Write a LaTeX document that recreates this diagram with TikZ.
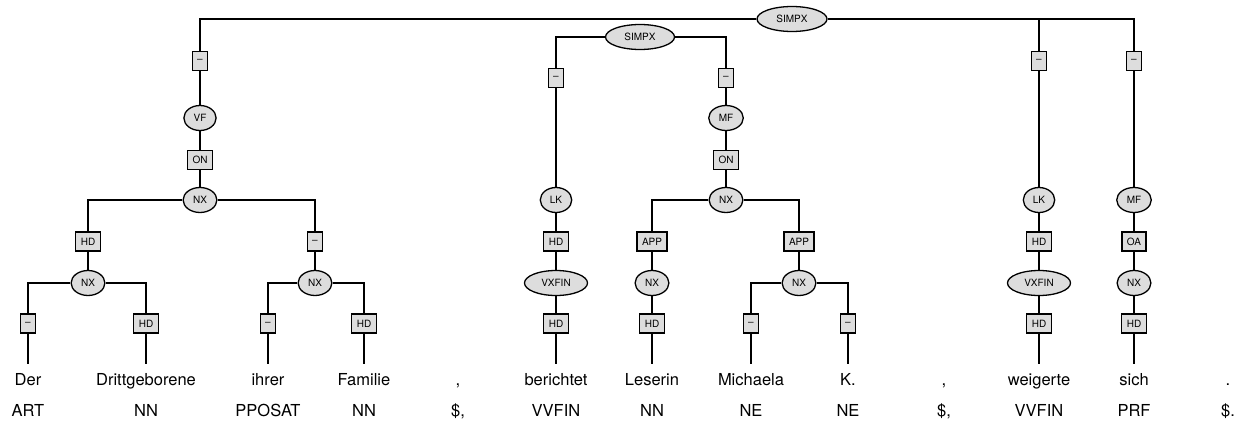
\documentclass[tikz,border=0pt]{standalone}
\usepackage{fontspec}
\setmainfont{TeX Gyre Heros}
\usetikzlibrary{shapes.geometric}
\definecolor{TreeFill}{HTML}{DDDDDD}

\begin{document}
\begin{tikzpicture}[x=1pt,y=-1pt,line width=1.3pt,
    cat/.style={ellipse,draw,fill=TreeFill,font=\fontsize{10}{12}\selectfont,inner xsep=5pt,inner ysep=2pt,minimum height=25pt},
    lab/.style={draw,fill=TreeFill,font=\fontsize{10}{12}\selectfont,inner xsep=5pt,inner ysep=2pt,minimum height=19pt,minimum width=15pt},
    word/.style={font=\fontsize{16.5}{20}\selectfont,anchor=base,inner ysep=8pt,text height=12pt,text depth=4pt}]
  \path[use as bounding box] (0,0) rectangle (1247,428);

  % main clause
  \node[cat,minimum width=70pt] (simpx) at (792,19) {SIMPX};
  \node[lab] (vfe)  at (200,61)  {\textendash};
  \node[lab] (lke)  at (1039,61) {\textendash};
  \node[lab] (mfe)  at (1134,61) {\textendash};
  \node[cat] (vf)   at (200,118) {VF};
  \node[lab] (on)   at (200,160) {ON};
  \node[cat] (nx)   at (200,200) {NX};
  \node[lab] (nxhd) at (88,241.5) {HD};
  \node[lab] (nxe)  at (315,241.5) {\textendash};
  \node[cat] (nxa)  at (88,283) {NX};
  \node[cat] (nxb)  at (315,283) {NX};
  \node[lab] (dere) at (28,323.5)  {\textendash};
  \node[lab] (drhd) at (146,323.5) {HD};
  \node[lab] (ihe)  at (268,323.5) {\textendash};
  \node[lab] (fahd) at (364,323.5) {HD};
  \node[cat] (lk)   at (1039,200) {LK};
  \node[lab] (lkhd) at (1039,241.5) {HD};
  \node[cat,minimum width=63pt] (vx) at (1039,283) {VXFIN};
  \node[lab] (whd)  at (1039,323.5) {HD};
  \node[cat] (mf)   at (1134,200) {MF};
  \node[lab] (oa)   at (1134,241.5) {OA};
  \node[cat] (nxs)  at (1134,283) {NX};
  \node[lab] (shd)  at (1134,323.5) {HD};

  % inserted clause
  \node[cat,minimum width=69pt] (simpxin) at (640,37) {SIMPX};
  \node[lab] (lkine) at (556,78) {\textendash};
  \node[lab] (mfine) at (726,78) {\textendash};
  \node[cat] (lkin)  at (556,200) {LK};
  \node[lab] (lkinhd) at (556,241.5) {HD};
  \node[cat,minimum width=63pt] (vxin) at (556,283) {VXFIN};
  \node[lab] (bhd)   at (556,323.5) {HD};
  \node[cat] (mfin)  at (726,118) {MF};
  \node[lab] (onin)  at (726,160) {ON};
  \node[cat] (nxin)  at (726,200) {NX};
  \node[lab] (appa)  at (652,241.5) {APP};
  \node[lab] (appb)  at (799,241.5) {APP};
  \node[cat] (nxl)   at (652,283) {NX};
  \node[lab] (lhd)   at (652,323.5) {HD};
  \node[cat] (nxm)   at (799,283) {NX};
  \node[lab] (mie)   at (751,323.5) {\textendash};
  \node[lab] (ke)    at (848,323.5) {\textendash};

  % words and tags
  \foreach \x/\w/\t [count=\i] in {28/Der/ART, 146/Drittgeborene/NN, 268/ihrer/PPOSAT, 364/Familie/NN,
      458/{,}/{\$,}, 556/berichtet/VVFIN, 652/Leserin/NN, 751/Michaela/NE, 848/K./NE,
      944/{,}/{\$,}, 1039/weigerte/VVFIN, 1134/sich/PRF, 1228/./{\$.}} {
    \node[word] (w\i) at (\x,385) {\w};
    \node[word] (t\i) at (\x,416) {\t};
  }

  \draw (simpx) -| (vfe);
  \draw (simpx) -| (lke);
  \draw (simpx) -| (mfe);
  \draw (vfe) -- (vf) -- (on) -- (nx);
  \draw (nx) -| (nxhd);
  \draw (nx) -| (nxe);
  \draw (nxhd) -- (nxa);
  \draw (nxe) -- (nxb);
  \draw (nxa) -| (dere);
  \draw (nxa) -| (drhd);
  \draw (nxb) -| (ihe);
  \draw (nxb) -| (fahd);
  \draw (dere) -- (w1);
  \draw (drhd) -- (w2);
  \draw (ihe) -- (w3);
  \draw (fahd) -- (w4);
  \draw (lke) -- (lk) -- (lkhd) -- (vx) -- (whd) -- (w11);
  \draw (mfe) -- (mf) -- (oa) -- (nxs) -- (shd) -- (w12);

  \draw (simpxin) -| (lkine);
  \draw (simpxin) -| (mfine);
  \draw (lkine) -- (lkin) -- (lkinhd) -- (vxin) -- (bhd) -- (w6);
  \draw (mfine) -- (mfin) -- (onin) -- (nxin);
  \draw (nxin) -| (appa);
  \draw (nxin) -| (appb);
  \draw (appa) -- (nxl) -- (lhd) -- (w7);
  \draw (appb) -- (nxm);
  \draw (nxm) -| (mie);
  \draw (nxm) -| (ke);
  \draw (mie) -- (w8);
  \draw (ke) -- (w9);
\end{tikzpicture}
\end{document}
